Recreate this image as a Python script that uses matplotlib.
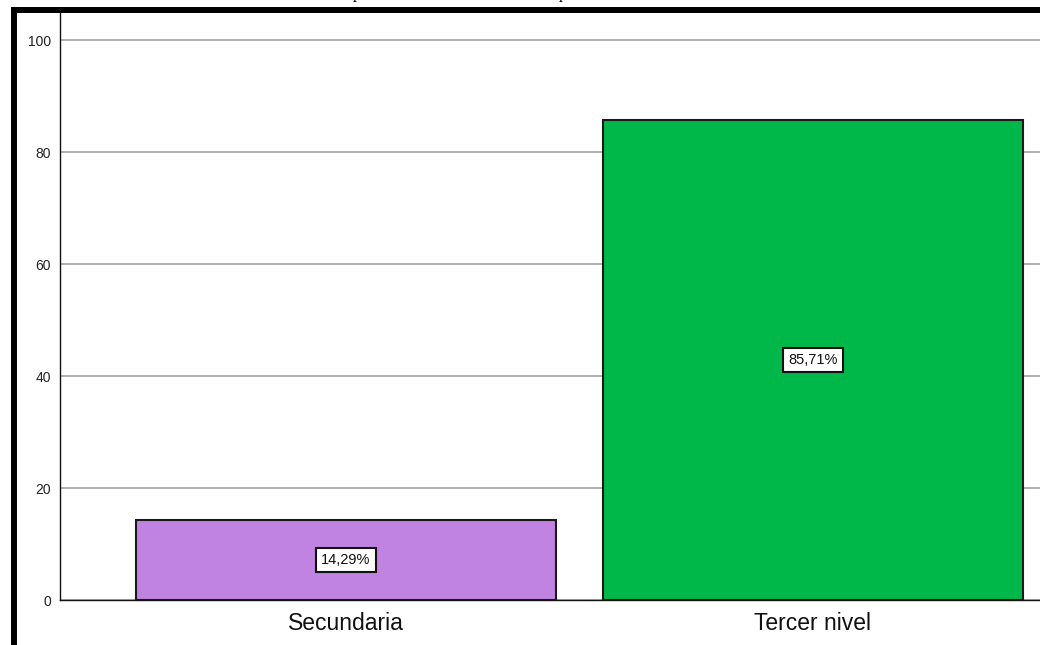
import matplotlib
matplotlib.use("Agg")
import matplotlib.pyplot as plt
from matplotlib.patches import Rectangle

categories = ["Secundaria", "Tercer nivel"]
values = [14.29, 85.71]
labels = ["14,29%", "85,71%"]
colors = ["#C183E1", "#00B84A"]
yticks = [0, 20, 40, 60, 80, 100]

W, H = 1040, 645
fig = plt.figure(figsize=(W / 100, H / 100), dpi=100)
fig.patch.set_facecolor("white")

ax = fig.add_axes([60 / W, (H - 600) / H, (W - 60) / W, (600 - 13) / H])
x = list(range(len(categories)))
ax.set_xlim(-286 / 467, 1 + 227 / 467)
ax.set_ylim(0, (600 - 13) / 5.6)

ax.set_yticks(yticks)
ax.yaxis.grid(True, color="#b0b0b0", linewidth=1.4, zorder=0)
ax.set_axisbelow(True)

bars = ax.bar(x, values, width=420 / 467, color=colors, edgecolor="#1a1a1a",
              linewidth=1.5, zorder=2)

for xi, v, lab in zip(x, values, labels):
    ax.text(xi, v / 2, lab, ha="center", va="center", fontsize=10.5,
            family="Liberation Sans", color="#111111", zorder=3,
            bbox=dict(boxstyle="square,pad=0.35", facecolor="white",
                      edgecolor="#111111", linewidth=1.5))

ax.set_xticks(x)
ax.set_xticklabels(categories, fontsize=16.5, family="Liberation Sans", color="#111111")
ax.tick_params(axis="x", length=0, pad=9)
ax.tick_params(axis="y", length=0, pad=6.5, labelsize=10, labelcolor="#222222")
for t in ax.get_yticklabels():
    t.set_family("Liberation Sans")

for s in ["top", "right"]:
    ax.spines[s].set_visible(False)
ax.spines["left"].set_color("#111111")
ax.spines["bottom"].set_color("#111111")
ax.spines["left"].set_linewidth(1.0)
ax.spines["bottom"].set_linewidth(1.0)

# thick frame partially visible (top and left edges)
frame = Rectangle((13.5 / W, -0.5), 2.0, 0.5 + (H - 10) / H,
                  transform=fig.transFigure, fill=False,
                  edgecolor="black", linewidth=4.3, zorder=10)
fig.add_artist(frame)

# caption above, mostly cropped off in the reference
for px in [358, 564]:
    fig.text(px / W, 1 + 1.5 / H, "p", ha="center", va="baseline",
             fontsize=12, family="Liberation Serif", fontstyle="italic",
             color="black")

fig.savefig("out.png", dpi=100)
